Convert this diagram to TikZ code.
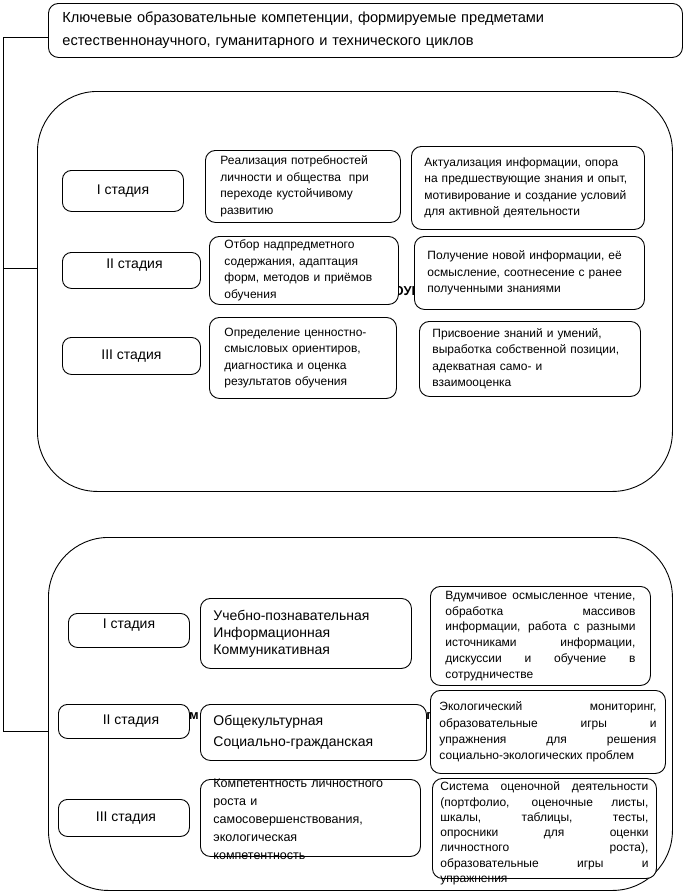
\documentclass[tikz,border=0pt]{standalone}
\usepackage{fontspec}
\setmainfont{Liberation Sans}
\usetikzlibrary{positioning}
\hyphenpenalty=10000
\exhyphenpenalty=10000
\tolerance=10000
\hbadness=10000
\tikzset{
  bigbox/.style={draw, line width=0.9pt, rounded corners=60pt, anchor=north west, inner sep=0pt},
  cellbox/.style={draw, line width=0.9pt, rounded corners=10pt, fill=white, anchor=north west,
    inner xsep=13pt, inner ysep=1pt, align=left, font=\fontsize{12}{16.5}\selectfont},
  celltxt/.style={inner sep=0pt, font=\fontsize{12}{16}\selectfont},
  stagebox/.style={draw, line width=0.9pt, rounded corners=9pt, fill=white, anchor=north west,
    inner sep=1pt, align=center, font=\fontsize{14}{15}\selectfont},
  busline/.style={draw, line width=0.9pt},
  ghosttxt/.style={inner sep=0pt, font=\bfseries\fontsize{13}{13}\selectfont}
}

\begin{document}
\begin{tikzpicture}[x=1pt, y=-1pt]
  \useasboundingbox (0,0) rectangle (684,894);

  % ---- Heading -------------------------------------------------------------
  \node[cellbox, inner xsep=14pt, font=\fontsize{14.6}{23}\selectfont,
        text width=606pt, minimum height=54pt] (head) at (48,3)
    {Ключевые образовательные компетенции, формируемые предметами\\
     естественнонаучного, гуманитарного и технического циклов};

  % ---- Two big frames ------------------------------------------------------
  \node[bigbox, minimum width=635pt, minimum height=400pt] (frameA) at (37,91) {};
  \node[bigbox, minimum width=624pt, minimum height=353pt] (frameB) at (48,537) {};

  % ---- Left bus ------------------------------------------------------------
  \coordinate (busend) at (3,731);
  \coordinate (tapA) at (3,268);
  \draw[busline] ([yshift=-7pt]head.west) -| (busend) -- (busend -| frameB.west);
  \draw[busline] (tapA) -- (tapA -| frameA.west);

  % ---- Bits of a hidden heading --------------------------------------------
  \node[ghosttxt] (ghostA) at (407,291) {ОУР};
  \node[ghosttxt] (ghostB1) at (194,716) {м};
  \node[ghosttxt] (ghostB2) at (429,716) {г};

  % ---- Upper frame: stages -------------------------------------------------
  \node[stagebox, minimum width=121pt, minimum height=41pt] (stA1) at (62,170) {I стадия};
  \node[stagebox, minimum width=138pt, minimum height=36pt, text depth=14pt] (stA2) at (62,252) {\hspace*{6pt}II стадия};
  \node[stagebox, minimum width=138pt, minimum height=37pt] (stA3) at (62,337) {III стадия};

  % ---- Upper frame: cells --------------------------------------------------
  \node[cellbox, inner xsep=15pt, text width=165pt, minimum height=72pt] (midA1) at (205,150)
    {Реализация потребностей\\личности и общества\ \ при\\переходе кустойчивому\\развитию};
  \node[cellbox, inner xsep=15pt, text width=159pt, minimum height=68pt] (midA2) at (209,236)
    {Отбор надпредметного\\содержания, адаптация\\форм, методов и приёмов\\обучения};
  \node[cellbox, inner xsep=15pt, text width=157pt, minimum height=81pt] (midA3) at (209,317)
    {Определение ценностно-\\смысловых ориентиров,\\диагностика и оценка\\результатов обучения};
  \node[cellbox, text width=207pt, minimum height=83pt] (rgtA1) at (411,146)
    {Актуализация информации, опора\\на предшествующие знания и опыт,\\мотивирование и создание условий\\для активной деятельности};
  \node[cellbox, text width=204pt, minimum height=73pt] (rgtA2) at (414,236)
    {Получение новой информации, её\\осмысление, соотнесение с ранее\\полученными знаниями};
  \node[cellbox, text width=195pt, minimum height=75pt] (rgtA3) at (419,321)
    {Присвоение знаний и умений,\\выработка собственной позиции,\\адекватная само- и\\взаимооценка};

  % ---- Lower frame: stages -------------------------------------------------
  \node[stagebox, minimum width=121pt, minimum height=34pt, text depth=14pt] (stB1) at (68,613) {I стадия};
  \node[stagebox, minimum width=131pt, minimum height=34pt] (stB2) at (58,704) {\hspace*{14pt}II стадия};
  \node[stagebox, minimum width=131pt, minimum height=37pt] (stB3) at (58,799) {\hspace*{4pt}III стадия};

  % ---- Lower frame: cells --------------------------------------------------
  \node[cellbox, font=\fontsize{14}{17}\selectfont, text width=185pt, minimum height=70pt] (midB1) at (200,598)
    {Учебно-познавательная\\Информационная\\Коммуникативная};
  \node[cellbox, font=\fontsize{14}{21}\selectfont, text width=200pt, minimum height=56pt] (midB2) at (200,704)
    {Общекультурная\\Социально-гражданская};
  \node[cellbox, minimum width=220pt, minimum height=77pt] (midB3) at (200,779) {};
  \node[celltxt, font=\fontsize{12.5}{18}\selectfont, text width=194pt, align=left] (midB3txt)
    at ([yshift=-1.5pt]midB3.center)
    {Компетентность личностного\\роста и\\самосовершенствования,\\экологическая\\компетентность};

  \node[cellbox, inner xsep=15pt, font=\fontsize{12}{15.8}\selectfont, text width=190pt,
        minimum height=99pt, align=justify] (rgtB1) at (430,586)
    {Вдумчивое осмысленное чтение,\linebreak
     обработка массивов\linebreak
     информации, работа с разными\linebreak
     источниками информации,\linebreak
     дискуссии и обучение в\linebreak
     сотрудничестве};
  \node[cellbox, inner xsep=9pt, font=\fontsize{12}{16.3}\selectfont, text width=217pt,
        minimum height=83pt, align=justify] (rgtB2) at (430,690)
    {Экологический мониторинг,\linebreak
     образовательные игры и\linebreak
     упражнения для решения\linebreak
     социально-экологических проблем};
  \node[cellbox, minimum width=224pt, minimum height=100pt] (rgtB3) at (432,778) {};
  \node[celltxt, font=\fontsize{12}{15.3}\selectfont, text width=208pt, align=justify] (rgtB3txt)
    at ([yshift=-5pt]rgtB3.center)
    {Система оценочной деятельности\linebreak
     (портфолио, оценочные листы,\linebreak
     шкалы, таблицы, тесты,\linebreak
     опросники для оценки\linebreak
     личностного роста),\linebreak
     образовательные игры и\linebreak
     упражнения};

\end{tikzpicture}
\end{document}
